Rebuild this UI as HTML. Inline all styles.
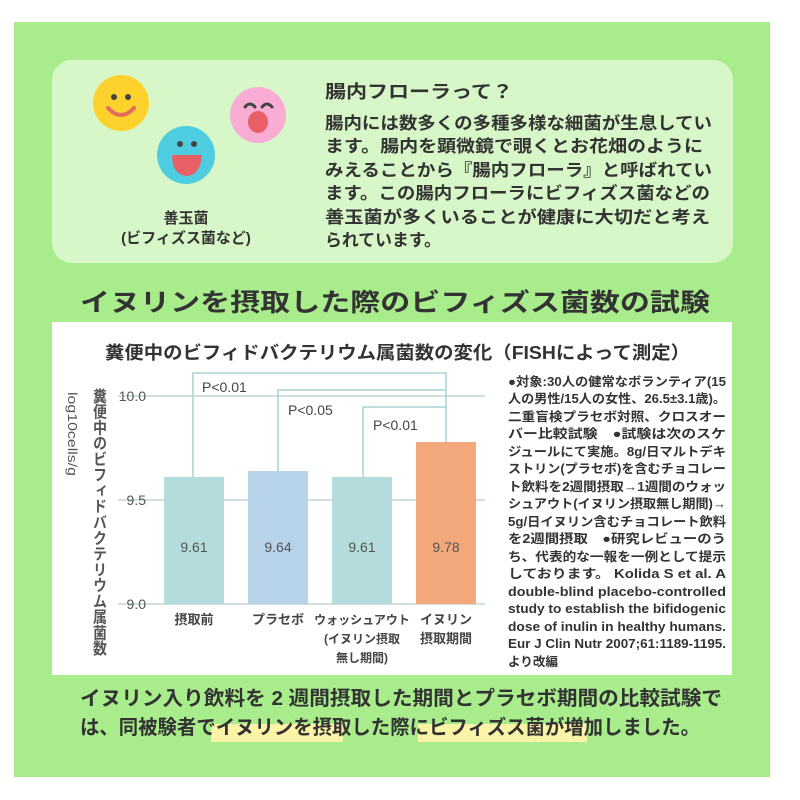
<!DOCTYPE html>
<html><head><meta charset="utf-8"><style>
html,body{margin:0;padding:0;background:#fff;}
svg{display:block;}
text{font-family:"Liberation Sans","Noto Sans CJK JP",sans-serif;}
</style></head><body>
<svg width="800" height="800" viewBox="0 0 800 800" xmlns="http://www.w3.org/2000/svg">
<rect x="0" y="0" width="800" height="800" fill="#fff"/>
<rect x="14" y="22" width="756" height="755" fill="#a9ec8c"/>
<rect x="52" y="60" width="681" height="203" rx="20" fill="#d8f7c8"/>
<circle cx="121" cy="103" r="28" fill="#fdd22d"/>
<circle cx="114" cy="97" r="3" fill="#444"/><circle cx="128" cy="97" r="3" fill="#444"/>
<path d="M108 108 Q121 122 134 108" stroke="#e56b5e" stroke-width="4" fill="none" stroke-linecap="round"/>
<circle cx="186" cy="155" r="29" fill="#4fcde0"/>
<circle cx="180" cy="144" r="3" fill="#444"/><circle cx="194" cy="144" r="3" fill="#444"/>
<path d="M172 155 L202 155 Q200 176 186 176 Q172 174 172 155 Z" fill="#e85f66"/>
<circle cx="258" cy="115" r="28" fill="#f9acd4"/>
<path d="M245 107 Q250 101 255 107 M262 107 Q267 101 272 107" stroke="#444" stroke-width="3" fill="none" stroke-linecap="round"/>
<ellipse cx="258" cy="122" rx="10" ry="11" fill="#e85f66"/>
<text x="186" y="223" font-size="15" font-weight="bold" fill="#333" text-anchor="middle">善玉菌</text>
<text x="186" y="243" font-size="15" font-weight="bold" fill="#333" text-anchor="middle">(ビフィズス菌など)</text>
<g font-size="17" font-weight="bold" fill="#333">
<text x="325" y="98" font-size="18" textLength="188" lengthAdjust="spacingAndGlyphs">腸内フローラって？</text>
<text x="325" y="129" textLength="387" lengthAdjust="spacingAndGlyphs">腸内には数多くの多種多様な細菌が生息してい</text>
<text x="325" y="152" textLength="378" lengthAdjust="spacingAndGlyphs">ます。腸内を顕微鏡で覗くとお花畑のように</text>
<text x="325" y="176" textLength="387" lengthAdjust="spacingAndGlyphs">みえることから『腸内フローラ』と呼ばれてい</text>
<text x="325" y="199" textLength="385" lengthAdjust="spacingAndGlyphs">ます。この腸内フローラにビフィズス菌などの</text>
<text x="325" y="223" textLength="385" lengthAdjust="spacingAndGlyphs">善玉菌が多くいることが健康に大切だと考え</text>
<text x="325" y="246" textLength="116" lengthAdjust="spacingAndGlyphs">られています。</text>
</g>
<text x="80" y="311" font-size="25" font-weight="bold" fill="#333" textLength="630" lengthAdjust="spacingAndGlyphs">イヌリンを摂取した際のビフィズス菌数の試験</text>
<rect x="52" y="322" width="680" height="353" fill="#fff"/>
<text x="105" y="359" font-size="18" font-weight="bold" fill="#333" textLength="585" lengthAdjust="spacingAndGlyphs">糞便中のビフィドバクテリウム属菌数の変化（FISHによって測定）</text>
<g stroke="#c4d6d6" stroke-width="1.5">
<line x1="118" y1="396" x2="485" y2="396"/>
<line x1="118" y1="500" x2="485" y2="500"/>
<line x1="118" y1="604" x2="485" y2="604"/>
</g>
<g font-size="14" fill="#555" text-anchor="end">
<text x="146" y="401">10.0</text><text x="146" y="505">9.5</text><text x="146" y="609">9.0</text>
</g>
<rect x="164" y="477" width="60" height="127" fill="#b4dcdc"/>
<rect x="248" y="471" width="60" height="133" fill="#b7d3ea"/>
<rect x="332" y="477" width="60" height="127" fill="#b4dcdc"/>
<rect x="416" y="442" width="60" height="162" fill="#f2a87a"/>
<g font-size="14" fill="#555" text-anchor="middle">
<text x="194" y="552">9.61</text><text x="278" y="552">9.64</text><text x="362" y="552">9.61</text><text x="446" y="552">9.78</text>
</g>
<g stroke="#a9d3d3" stroke-width="1.5" fill="none">
<polyline points="193,477 193,373 446,373 446,442"/>
<polyline points="278,471 278,390 446,390"/>
<polyline points="363,477 363,407 446,407"/>
</g>
<g font-size="14" fill="#444">
<text x="202" y="392">P&lt;0.01</text><text x="288" y="415">P&lt;0.05</text><text x="373" y="430">P&lt;0.01</text>
</g>
<g font-size="13" fill="#444" text-anchor="middle" font-weight="bold">
<text x="194" y="624">摂取前</text><text x="278" y="624">プラセボ</text>
<text x="362" y="624" font-size="12">ウォッシュアウト</text>
<text x="362" y="643" font-size="12">(イヌリン摂取</text>
<text x="362" y="662" font-size="12">無し期間)</text>
<text x="446" y="624">イヌリン</text><text x="446" y="643">摂取期間</text>
</g>
<text font-size="14" fill="#555" font-weight="bold" x="100" y="388" textLength="268" lengthAdjust="spacingAndGlyphs" style="writing-mode:vertical-rl">糞便中のビフィドバクテリウム属菌数</text>
<text font-size="13" fill="#555" transform="translate(68,392) rotate(90)" textLength="84" lengthAdjust="spacingAndGlyphs">log10cells/g</text>
<g font-size="12.5" fill="#333" font-weight="bold">
<text x="508" y="386" textLength="218" lengthAdjust="spacingAndGlyphs">●対象:30人の健常なボランティア(15</text>
<text x="508" y="403" textLength="218" lengthAdjust="spacingAndGlyphs">人の男性/15人の女性、26.5±3.1歳)。</text>
<text x="508" y="421" textLength="218" lengthAdjust="spacingAndGlyphs">二重盲検プラセボ対照、クロスオー</text>
<text x="508" y="438" textLength="218" lengthAdjust="spacingAndGlyphs">バー比較試験　●試験は次のスケ</text>
<text x="508" y="456" textLength="218" lengthAdjust="spacingAndGlyphs">ジュールにて実施。8g/日マルトデキ</text>
<text x="508" y="473" textLength="218" lengthAdjust="spacingAndGlyphs">ストリン(プラセボ)を含むチョコレー</text>
<text x="508" y="491" textLength="218" lengthAdjust="spacingAndGlyphs">ト飲料を2週間摂取→1週間のウォッ</text>
<text x="508" y="508" textLength="218" lengthAdjust="spacingAndGlyphs">シュアウト(イヌリン摂取無し期間)→</text>
<text x="508" y="526" textLength="218" lengthAdjust="spacingAndGlyphs">5g/日イヌリン含むチョコレート飲料</text>
<text x="508" y="543" textLength="218" lengthAdjust="spacingAndGlyphs">を2週間摂取　●研究レビューのう</text>
<text x="508" y="561" textLength="218" lengthAdjust="spacingAndGlyphs">ち、代表的な一報を一例として提示</text>
<text x="508" y="578" textLength="218" lengthAdjust="spacingAndGlyphs">しております。 Kolida S et al. A</text>
<text x="508" y="596" textLength="218" lengthAdjust="spacingAndGlyphs">double-blind placebo-controlled</text>
<text x="508" y="613" textLength="218" lengthAdjust="spacingAndGlyphs">study to establish the bifidogenic</text>
<text x="508" y="631" textLength="218" lengthAdjust="spacingAndGlyphs">dose of inulin in healthy humans.</text>
<text x="508" y="648" textLength="218" lengthAdjust="spacingAndGlyphs">Eur J Clin Nutr 2007;61:1189-1195.</text>
<text x="508" y="666" textLength="50" lengthAdjust="spacingAndGlyphs">より改編</text>
</g>
<rect x="211" y="724" width="132" height="18" fill="#fbf3a6"/>
<rect x="418" y="724" width="169" height="18" fill="#fbf3a6"/>
<g font-size="20" font-weight="bold" fill="#333">
<text x="80" y="705" textLength="642" lengthAdjust="spacingAndGlyphs">イヌリン入り飲料を 2 週間摂取した期間とプラセボ期間の比較試験で</text>
<text x="80" y="734" textLength="620" lengthAdjust="spacingAndGlyphs">は、同被験者でイヌリンを摂取した際にビフィズス菌が増加しました。</text>
</g>
</svg>
</body></html>
